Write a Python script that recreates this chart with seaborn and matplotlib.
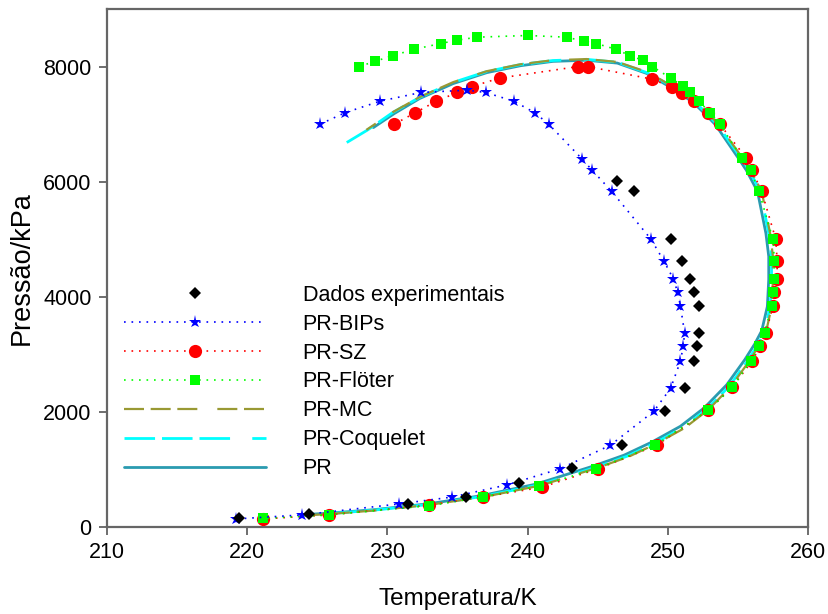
import matplotlib
matplotlib.use("Agg")
import matplotlib.pyplot as plt
import seaborn as sns
import pandas as pd

# Experimental bubble/dew points
T_exp = [219.4, 224.4, 231.5, 235.6, 239.4, 243.2, 246.7, 249.8, 251.2, 251.9, 252.1,
         252.2, 252.2, 251.9, 251.6, 251.0, 250.2, 247.6, 246.4]
P_exp = [150, 220, 400, 520, 760, 1020, 1420, 2010, 2410, 2880, 3140,
         3370, 3840, 4080, 4310, 4630, 5000, 5830, 6020]

# PR with fitted binary interaction parameters
T_bips = [225.2, 227.0, 229.5, 232.4, 235.7, 237.0, 239.0, 240.5, 241.5, 243.9, 244.6,
          246.0, 248.8, 249.7, 250.4, 250.7, 250.9, 251.2, 251.1, 250.9, 250.2, 249.0,
          245.9, 242.3, 238.5, 234.6, 230.8, 223.9, 219.2]
P_bips = [7000, 7200, 7400, 7550, 7590, 7550, 7400, 7200, 7000, 6390, 6200,
          5830, 5000, 4630, 4310, 4080, 3840, 3370, 3140, 2880, 2410, 2010,
          1420, 1010, 730, 520, 400, 210, 140]

# PR-SZ
T_sz = [230.5, 232.0, 233.5, 235.0, 236.0, 238.0, 243.6, 244.3, 248.9, 250.3, 251.0,
        251.9, 252.9, 253.7, 255.6, 256.0, 256.7, 257.7, 257.8, 257.8, 257.6, 257.5,
        257.0, 256.6, 256.0, 254.6, 252.9, 249.2, 245.0, 241.0, 236.8, 233.0, 225.8, 221.1]
P_sz = [7000, 7200, 7400, 7550, 7650, 7800, 8000, 8000, 7780, 7640, 7540,
        7400, 7190, 7000, 6410, 6200, 5830, 5000, 4630, 4310, 4080, 3840,
        3370, 3140, 2880, 2430, 2030, 1420, 1010, 690, 520, 380, 210, 140]

# PR-Flöter
T_flo = [228.0, 229.1, 230.4, 231.9, 233.8, 235.0, 236.4, 240.0, 242.8, 244.0, 244.9,
         246.3, 247.3, 248.2, 248.9, 250.2, 251.1, 251.6, 252.2, 253.0, 253.7, 255.3,
         255.9, 256.5, 257.5, 257.6, 257.6, 257.5, 257.4, 256.9, 256.5, 255.9, 254.6,
         252.9, 249.1, 244.9, 240.8, 236.8, 233.0, 225.8, 221.1]
P_flo = [8000, 8090, 8190, 8300, 8400, 8460, 8510, 8540, 8510, 8440, 8400,
         8300, 8190, 8110, 8000, 7800, 7660, 7550, 7400, 7200, 7000, 6410,
         6200, 5830, 5000, 4630, 4310, 4080, 3840, 3370, 3140, 2880, 2430,
         2030, 1420, 1010, 710, 520, 370, 210, 150]

# PR-MC envelope
T_mc = [224.0, 225.8, 229.0, 233.0, 236.9, 240.9, 245.0, 247.2, 249.2, 251.2, 252.9,
        254.5, 255.8, 256.5, 257.0, 257.4, 257.5, 257.5, 257.3, 256.7, 255.9, 255.3,
        253.6, 252.8, 251.9, 250.3, 248.6, 246.4, 244.2, 241.8, 239.5, 237.1, 234.7,
        232.3, 230.4, 228.5]
P_mc = [200, 225, 285, 385, 525, 720, 1030, 1220, 1450, 1720, 2040,
        2440, 2880, 3150, 3380, 3820, 4300, 4700, 5100, 5830, 6200, 6420,
        7000, 7200, 7390, 7660, 7900, 8080, 8130, 8110, 8040, 7920, 7730,
        7470, 7210, 6900]

# PR-Coquelet envelope (traced from the upper-left end)
T_coq = [227.1, 228.6, 230.4, 232.3, 234.7, 237.1, 239.5, 241.8, 244.2, 246.4, 248.5,
         250.3, 251.9, 252.7, 253.5, 255.2, 255.8, 256.6, 257.2, 257.4, 257.4, 257.3,
         256.9, 256.4, 255.7, 254.4, 252.8, 251.1, 249.1, 247.1, 244.9, 240.8, 236.8,
         233.0, 229.0, 225.8, 224.0]
P_coq = [6680, 6900, 7205, 7465, 7725, 7915, 8035, 8105, 8125, 8075, 7895,
         7660, 7395, 7200, 7000, 6420, 6200, 5830, 5100, 4700, 4300, 3830,
         3390, 3160, 2890, 2450, 2050, 1730, 1460, 1230, 1040, 730, 532,
         392, 292, 230, 205]

# PR (classical mixing rules)
T_pr = [224.0, 225.8, 229.0, 233.0, 236.7, 240.6, 244.7, 246.9, 248.9, 250.9, 252.6,
        254.2, 255.5, 256.2, 256.7, 257.1, 257.2, 257.2, 257.0, 256.4, 255.6, 255.0,
        253.4, 252.6, 251.8, 250.2, 248.5, 246.4, 244.2, 241.8, 239.5, 237.1, 234.7,
        232.3, 230.5, 229.0]
P_pr = [215, 240, 300, 405, 545, 745, 1060, 1250, 1480, 1750, 2070,
        2470, 2910, 3180, 3410, 3830, 4300, 4700, 5100, 5830, 6200, 6420,
        6990, 7190, 7380, 7640, 7880, 8060, 8110, 8090, 8015, 7895, 7705,
        7445, 7185, 6940]

sns.set_style("white")
plt.rcParams["font.family"] = ["Liberation Sans", "DejaVu Sans"]
plt.rcParams["text.color"] = "black"
plt.rcParams["axes.labelcolor"] = "black"
plt.rcParams["xtick.color"] = "black"
plt.rcParams["ytick.color"] = "black"

fig = plt.figure(figsize=(8.29, 6.14), dpi=100)
ax = fig.add_axes([107 / 829, 87 / 614, 701 / 829, 518 / 614])


def curve(T, P, **kws):
    df = pd.DataFrame({"T": T, "P": P})
    sns.lineplot(data=df, x="T", y="P", sort=False, estimator=None, ax=ax, **kws)


curve(T_pr, P_pr, color="#2A9BB0", lw=2.0, label="PR", zorder=3)
curve(T_coq, P_coq, color="#00FFFF", lw=2.0, linestyle=(0, (11, 2.5, 11, 2.5, 11, 8)),
      label="PR-Coquelet", zorder=3)
curve(T_mc, P_mc, color="#999933", lw=1.6, linestyle=(0, (9, 3, 9, 3, 9, 9)),
      label="PR-MC", zorder=3)
curve(T_sz, P_sz, color="#FF0000", lw=1.2, linestyle=(0, (1, 3.5)), marker="o",
      markersize=9.5, markeredgewidth=0, label="PR-SZ", zorder=4)
curve(T_flo, P_flo, color="#00FF00", lw=1.2, linestyle=(0, (1, 3.5)), marker="s",
      markersize=6.5, markeredgewidth=0, label="PR-Flöter", zorder=5)
curve(T_bips, P_bips, color="#0000FF", lw=1.2, linestyle=(0, (1, 3.5)), marker="*",
      markersize=9.5, markeredgewidth=0, label="PR-BIPs", zorder=5)
curve(T_exp, P_exp, color="black", linestyle="none", marker="D",
      markersize=6.6, markeredgewidth=0, label="Dados experimentais", zorder=6)

ax.set_xlim(210, 260)
ax.set_ylim(0, 9000)
ax.set_xticks([210, 220, 230, 240, 250, 260])
ax.set_yticks([0, 2000, 4000, 6000, 8000])
ax.tick_params(axis="both", direction="out", length=6, width=1.2, color="#555555",
               labelcolor="black", labelsize=15.5, pad=5, bottom=True, left=True)
for s in ax.spines.values():
    s.set_color("#666666")
    s.set_linewidth(1.6)

ax.set_xlabel("Temperatura/K", fontsize=17.5, labelpad=18)
ax.set_ylabel("Pressão/kPa", fontsize=19.5, labelpad=6)

order = ["Dados experimentais", "PR-BIPs", "PR-SZ", "PR-Flöter", "PR-MC",
         "PR-Coquelet", "PR"]
handles, labels = ax.get_legend_handles_labels()
hmap = dict(zip(labels, handles))
ax.legend([hmap[k] for k in order], order, loc="upper left",
          bbox_to_anchor=(0.024, 0.468), frameon=False, fontsize=15.5,
          handlelength=6.6, handletextpad=1.7, labelspacing=0.37,
          borderpad=0, borderaxespad=0, numpoints=1)

fig.savefig("out.png", dpi=100)
